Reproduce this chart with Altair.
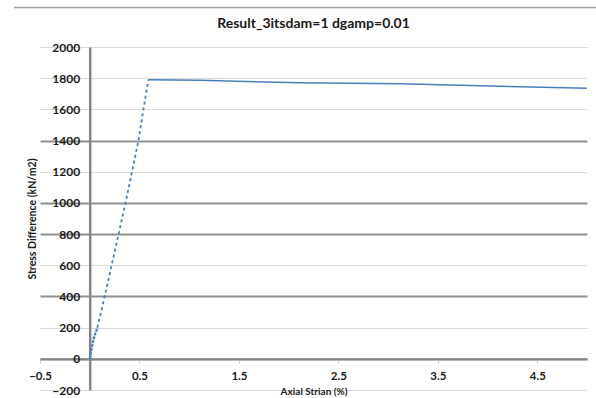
import altair as alt
import pandas as pd

# ---- data ----
origin_x = [0.0, 0.02, 0.04, 0.055, 0.077]
origin_y = [0, 70, 130, 160, 200]

rise_x = [0.077, 0.15, 0.36, 0.49, 0.54, 0.59]
rise_y = [200, 400, 1000, 1400, 1600, 1790]

plateau_x = [0.59, 1.11, 2.11, 3.12, 3.93, 5.0]
plateau_y = [1790, 1786, 1771, 1764, 1751, 1736]

x_ticks = [-0.5, 0.5, 1.5, 2.5, 3.5, 4.5]
y_ticks = list(range(-200, 2001, 200))
dark_grid = [0, 400, 800, 1000, 1400]

FONT = "Lato"
BLUE = "#4a7ebb"
W, H = 547, 343

df_origin = pd.DataFrame({"x": origin_x, "y": origin_y})
df_rise = pd.DataFrame({"x": rise_x, "y": rise_y})
df_plateau = pd.DataFrame({"x": plateau_x, "y": plateau_y})

dark_test = "indexof([" + ",".join(str(v) for v in dark_grid) + "], datum.value) >= 0"

x_enc = alt.X(
    "x:Q",
    scale=alt.Scale(domain=[-0.5, 5], nice=False, zero=False),
    axis=alt.Axis(
        values=x_ticks,
        format=".1f",
        offset=-31.2,
        grid=False,
        domainColor="#858585",
        domainWidth=2,
        tickColor="#c8c8c8",
        tickSize=4,
        labelPadding=8,
        labelFlush=False,
        labelOverlap=False,
        labelFont=FONT,
        labelFontSize=11.5,
        labelFontWeight="bold",
        labelColor="#1a1a1a",
        title="Axial Strian (%)",
        titleFont=FONT,
        titleFontSize=10,
        titleFontWeight="bold",
        titleColor="#1a1a1a",
        titlePadding=4,
    ),
)

y_enc = alt.Y(
    "y:Q",
    scale=alt.Scale(domain=[-200, 2000], nice=False, zero=False),
    axis=alt.Axis(
        values=y_ticks,
        format="d",
        offset=-49.7,
        grid=True,
        gridColor={"condition": {"test": dark_test, "value": "#8f8f8f"}, "value": "#d9d9d9"},
        gridWidth={"condition": {"test": dark_test, "value": 2}, "value": 1},
        domainColor="#858585",
        domainWidth=2.5,
        ticks=False,
        labelPadding=10,
        labelFlush=False,
        labelOverlap=False,
        labelFont=FONT,
        labelFontSize=12,
        labelFontWeight="bold",
        labelColor="#1a1a1a",
        title="Stress Difference (kN/m2)",
        titleFont=FONT,
        titleFontSize=10.5,
        titleFontWeight="bold",
        titleColor="#1a1a1a",
        titlePadding=14,
    ),
)

origin = alt.Chart(df_origin).mark_line(color=BLUE, strokeWidth=2.2, strokeDash=[3, 1])
rise = alt.Chart(df_rise).mark_line(color=BLUE, strokeWidth=1.8, strokeDash=[3, 3])
plateau = alt.Chart(df_plateau).mark_line(color=BLUE, strokeWidth=1.5)
border = alt.Chart(pd.DataFrame({"x": [0], "y": [0]})).mark_rule(
    color="#a0a0a0", strokeWidth=1.5, clip=False
).encode(
    x=alt.value(-26), x2=alt.value(556), y=alt.YDatum(2253)
)

chart = (
    alt.layer(origin, rise, plateau, border)
    .encode(x=x_enc, y=y_enc)
    .properties(
        width=W,
        height=H,
        autosize=alt.AutoSizeParams(type="none"),
        padding={"left": 40, "top": 47, "right": 9, "bottom": 8},
        background="white",
        title=alt.TitleParams(
            "Result_3itsdam=1 dgamp=0.01",
            font=FONT,
            fontSize=14,
            fontWeight="bold",
            color="#1a1a1a",
            anchor="middle",
            offset=14,
            dy=38,
        ),
    )
    .configure_view(stroke=None)
)

chart.save("out.html", embed_options={"renderer": "svg", "actions": False})
